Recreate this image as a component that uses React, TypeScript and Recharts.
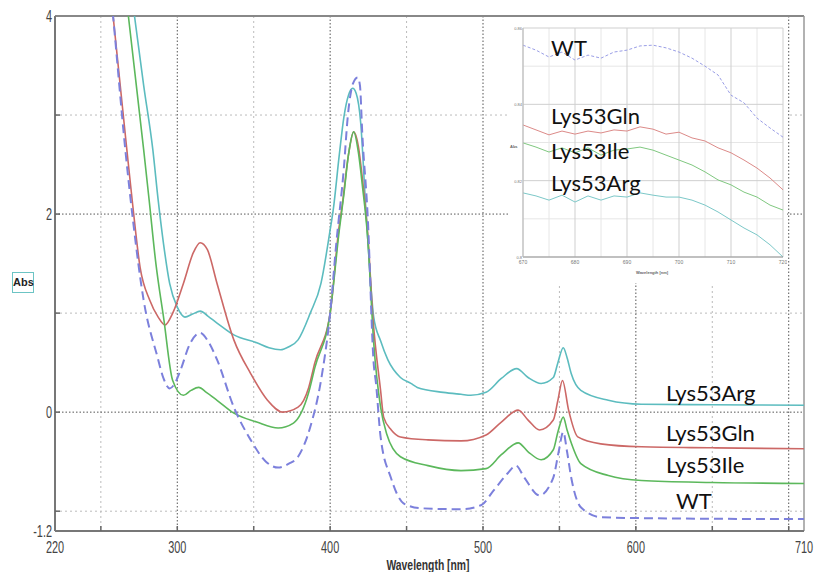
import { LineChart, Line, XAxis, YAxis, CartesianGrid, ReferenceLine, ReferenceDot } from 'recharts';

// main spectra (wavelength nm / absorbance)
const argWl = [250, 272, 278, 284, 287.5, 291, 295, 300, 305, 310, 315, 320, 326, 337, 352, 360, 367.5, 373, 379, 387, 394, 400, 402, 406, 409, 412, 414.7, 417, 420, 423, 424.6, 428.5, 433, 437.7, 446, 452.8, 457, 474, 485.6, 492, 502, 512, 522, 529.5, 538, 546, 549, 552.5, 555, 557.7, 564, 582, 603.6, 650, 710];
const argAbs = [6.4, 4.0, 3.3, 2.65, 2.14, 1.7, 1.30, 1.06, 0.96, 0.99, 1.02, 0.97, 0.90, 0.78, 0.70, 0.65, 0.63, 0.66, 0.73, 1.0, 1.3, 1.84, 2.04, 2.6, 2.98, 3.2, 3.27, 3.22, 2.92, 2.14, 1.75, 0.96, 0.72, 0.53, 0.35, 0.29, 0.25, 0.20, 0.18, 0.17, 0.20, 0.34, 0.44, 0.35, 0.29, 0.35, 0.50, 0.65, 0.55, 0.39, 0.22, 0.12, 0.08, 0.075, 0.07];

const glnWl = [250, 258, 267, 270.5, 275.7, 282, 287.5, 292, 297, 304, 310.5, 315, 319.7, 326, 337, 348, 359, 369, 379, 386, 390, 400, 405.6, 408, 412, 415.4, 418.5, 421, 424.6, 428, 433, 435, 440, 446, 464, 485.6, 502, 512, 523, 529.5, 537, 546, 549, 552, 556, 562, 577, 603.6, 650, 710];
const glnAbs = [5.3, 4.0, 2.65, 2.14, 1.46, 1.13, 0.96, 0.88, 1.0, 1.30, 1.61, 1.71, 1.64, 1.30, 0.73, 0.39, 0.12, 0.0, 0.05, 0.25, 0.5, 1.0, 1.84, 2.1, 2.6, 2.83, 2.68, 2.37, 1.8, 0.95, 0.22, -0.05, -0.18, -0.25, -0.28, -0.29, -0.23, -0.10, 0.02, -0.08, -0.18, -0.08, 0.12, 0.32, 0.02, -0.25, -0.32, -0.35, -0.36, -0.37];

const ileWl = [250, 268, 278, 281.6, 286, 291, 297, 304, 309, 314, 319, 326, 337, 352, 366, 376, 386, 390, 400, 406, 409, 412, 415.4, 418.5, 421, 424.6, 428.5, 433, 437, 446, 464, 485.6, 502, 512, 523, 529.5, 538, 546, 549, 552.5, 555, 557.7, 564, 582, 603.6, 650, 710];
const ileAbs = [6.6, 4.0, 2.65, 2.14, 1.5, 0.96, 0.32, 0.17, 0.22, 0.25, 0.20, 0.12, -0.01, -0.10, -0.16, -0.11, 0.20, 0.45, 1.0, 1.84, 2.2, 2.6, 2.83, 2.62, 2.3, 1.75, 0.7, 0.05, -0.22, -0.45, -0.54, -0.59, -0.57, -0.43, -0.31, -0.40, -0.48, -0.38, -0.2, -0.05, -0.18, -0.31, -0.52, -0.64, -0.69, -0.71, -0.72];

const wtWl = [250, 258, 266, 271, 278, 287, 291, 295, 298, 302, 308, 315, 320, 326, 337, 348, 358, 366, 373, 379, 387, 394, 400, 404, 409, 411.5, 415, 418, 419.5, 421, 424.6, 428.5, 430, 433, 439.7, 448, 459, 485.6, 498.7, 507, 516, 521.6, 527, 537, 546, 549.5, 552.5, 555, 557.7, 564, 577, 603.6, 710];
const wtAbs = [5.3, 4.0, 2.65, 1.94, 1.13, 0.56, 0.34, 0.24, 0.28, 0.42, 0.68, 0.80, 0.72, 0.53, 0.05, -0.28, -0.50, -0.56, -0.52, -0.45, -0.15, 0.32, 1.0, 1.7, 2.47, 2.98, 3.32, 3.38, 3.3, 2.82, 1.97, 0.49, 0.29, -0.25, -0.66, -0.92, -0.97, -0.98, -0.94, -0.79, -0.62, -0.54, -0.66, -0.84, -0.66, -0.4, -0.20, -0.4, -0.66, -0.96, -1.06, -1.07, -1.08];

// inset (zoomed red end)
const insetWl = [670, 672.5, 675, 677.5, 680, 682.5, 685, 687.5, 690, 692.5, 695, 697.5, 700, 702.5, 705, 707.5, 710, 712.5, 715, 717.5, 720];
const insetWt = [0.8555, 0.8542, 0.8524, 0.8537, 0.8516, 0.8529, 0.8521, 0.8537, 0.8542, 0.8553, 0.8555, 0.8548, 0.8537, 0.8521, 0.85, 0.8477, 0.8424, 0.8404, 0.8364, 0.8338, 0.8314];
const insetGln = [0.8346, 0.8333, 0.832, 0.833, 0.8322, 0.833, 0.8325, 0.8333, 0.833, 0.8341, 0.8335, 0.8322, 0.8327, 0.8312, 0.8304, 0.8286, 0.8273, 0.8254, 0.8233, 0.8207, 0.8176];
const insetIle = [0.8299, 0.8288, 0.8275, 0.8286, 0.8273, 0.8286, 0.8267, 0.828, 0.8283, 0.8288, 0.828, 0.8267, 0.8254, 0.8241, 0.8223, 0.8202, 0.8189, 0.817, 0.8157, 0.8136, 0.8123];
const insetArg = [0.8168, 0.816, 0.8149, 0.8162, 0.8144, 0.816, 0.8149, 0.816, 0.8157, 0.8168, 0.8162, 0.8157, 0.8157, 0.8149, 0.8136, 0.8118, 0.8097, 0.8076, 0.8058, 0.8032, 0.8];

const xTicks = [220, 250, 300, 350, 400, 450, 500, 550, 600, 650, 700, 710];
const xLabels = [220, 300, 400, 500, 600, 710];
const yTicks = [4, 3, 2, 1, 0, -1, -1.2];
const yLabels = [4, 2, 0, -1.2];
const insetXTicks = [670, 680, 690, 700, 710, 720];
const insetYTicks = [0.8, 0.82, 0.84, 0.86];

const COLORS = { arg: '#5cbcbf', gln: '#cc6866', ile: '#5cb85c', wt: '#7c80dc' };

const zip = (wl: number[], abs: number[]) => wl.map((w, i) => ({ wl: w, abs: abs[i] }));
const argData = zip(argWl, argAbs);
const glnData = zip(glnWl, glnAbs);
const ileData = zip(ileWl, ileAbs);
const wtData = zip(wtWl, wtAbs);
const insetData = insetWl.map((w, i) => ({ wl: w, wt: insetWt[i], gln: insetGln[i], ile: insetIle[i], arg: insetArg[i] }));

const tickFont = "'Liberation Sans', Arial, sans-serif";
const tagFont = "Lato, 'Liberation Sans', sans-serif";

const XTick = (props: any) => {
  const { x, y, payload } = props;
  const v = payload.value;
  return (
    <g>
      {v !== 220 && v !== 710 && <line x1={x} y1={y} x2={x} y2={y - 5} stroke="#666" strokeWidth={1.5} />}
      {xLabels.includes(v) && (
        <text transform={`translate(${x},${y + 22}) scale(0.64,1)`} textAnchor="middle" fontSize={17} fill="#444" fontFamily={tickFont}>
          {v}
        </text>
      )}
    </g>
  );
};

const YTick = (props: any) => {
  const { x, y, payload } = props;
  const v = payload.value;
  return (
    <g>
      {v !== 4 && v !== -1.2 && <line x1={x} y1={y} x2={x + 5} y2={y} stroke="#666" strokeWidth={1.5} />}
      {yLabels.includes(v) && (
        <text transform={`translate(${x - 3},${y + 6}) scale(0.64,1)`} textAnchor="end" fontSize={17} fill="#444" fontFamily={tickFont}>
          {v}
        </text>
      )}
    </g>
  );
};

const InsetTick = (anchor: 'x' | 'y') => (props: any) => {
  const { x, y, payload } = props;
  return anchor === 'x' ? (
    <text x={x} y={y + 7} textAnchor="middle" fontSize={5} fill="#777" fontFamily={tickFont}>{payload.value}</text>
  ) : (
    <text x={x - 1} y={y + 2} textAnchor="end" fontSize={4} fill="#777" fontFamily={tickFont}>{payload.value}</text>
  );
};

const tag = (text: string, size: number) => (props: any) => {
  const { viewBox } = props;
  return (
    <text x={viewBox.x} y={viewBox.y} fontSize={size} fill="#111" fontFamily={tagFont}>
      {text}
    </text>
  );
};

export default function App() {
  return (
    <div style={{ position: 'absolute', left: 0, top: 0, width: 814, height: 572, background: '#fff' }}>
      <LineChart width={814} height={572} margin={{ top: 16, right: 10, bottom: 0, left: 0 }}>
        <CartesianGrid horizontalValues={[3, 1, -1]} verticalValues={[250, 350, 450, 550, 650]} stroke="#bbb" strokeDasharray="2 3" />
        <CartesianGrid horizontalValues={[2, 0]} verticalValues={[300, 400, 500, 600, 700]} stroke="#555" strokeDasharray="1.5 2" />
        <XAxis dataKey="wl" type="number" domain={[220, 710]} ticks={xTicks} allowDataOverflow height={41}
          tickSize={0} tickMargin={0} tickLine={false} axisLine={{ stroke: '#777', strokeWidth: 2 }} tick={XTick} interval={0} />
        <YAxis type="number" domain={[-1.2, 4]} ticks={yTicks} allowDataOverflow width={55}
          tickSize={0} tickMargin={0} tickLine={false} axisLine={{ stroke: '#777', strokeWidth: 2 }} tick={YTick} interval={0} />
        <ReferenceLine y={4} stroke="#888" strokeWidth={2} />
        <ReferenceLine x={710} stroke="#999" strokeWidth={1.5} />
        <Line data={argData} dataKey="abs" type="monotone" stroke={COLORS.arg} strokeWidth={1.6} dot={false} isAnimationActive={false} />
        <Line data={glnData} dataKey="abs" type="monotone" stroke={COLORS.gln} strokeWidth={1.6} dot={false} isAnimationActive={false} />
        <Line data={ileData} dataKey="abs" type="monotone" stroke={COLORS.ile} strokeWidth={1.6} dot={false} isAnimationActive={false} />
        <Line data={wtData} dataKey="abs" type="monotone" stroke={COLORS.wt} strokeWidth={2} strokeDasharray="9 5" dot={false} isAnimationActive={false} />
        <ReferenceDot x={620.4} y={0.1} r={1} fill="none" stroke="none" label={tag('Lys53Arg', 22)} />
        <ReferenceDot x={620.4} y={-0.3} r={1} fill="none" stroke="none" label={tag('Lys53Gln', 22)} />
        <ReferenceDot x={620.4} y={-0.62} r={1} fill="none" stroke="none" label={tag('Lys53Ile', 22)} />
        <ReferenceDot x={626.9} y={-0.99} r={1} fill="none" stroke="none" label={tag('WT', 22)} />
      </LineChart>

      <div style={{ position: 'absolute', left: 0, top: 557, width: 856, textAlign: 'center', fontFamily: tickFont, fontWeight: 'bold', fontSize: 14, color: '#333', transform: 'scaleX(0.74)', transformOrigin: '428px 0' }}>
        Wavelength [nm]
      </div>
      <div style={{ position: 'absolute', left: 12, top: 272, width: 20, height: 19, border: '1px solid #6cc4c4', fontFamily: tickFont, fontWeight: 'bold', fontSize: 11, lineHeight: '19px', textAlign: 'center', color: '#222' }}>
        Abs
      </div>

      <div style={{ position: 'absolute', left: 510, top: 17, width: 277, height: 266, background: '#fff' }}>
        <LineChart width={277} height={266} data={insetData} margin={{ top: 11, right: 4, bottom: 0, left: 0 }}>
          <CartesianGrid horizontalValues={[0.81, 0.83, 0.85]} verticalValues={[675, 685, 695, 705, 715]} stroke="#e6e6e6" />
          <CartesianGrid horizontalValues={[0.8, 0.82, 0.84, 0.86]} verticalValues={[670, 680, 690, 700, 710, 720]} stroke="#cfcfcf" />
          <XAxis dataKey="wl" type="number" domain={[670, 720]} ticks={insetXTicks} height={26}
            tickSize={0} tickMargin={0} tickLine={false} axisLine={{ stroke: '#999' }} tick={InsetTick('x')} interval={0} />
          <YAxis type="number" domain={[0.8, 0.86]} ticks={insetYTicks} width={13}
            tickSize={0} tickMargin={0} tickLine={false} axisLine={{ stroke: '#bbb' }} tick={InsetTick('y')} interval={0} />
          <Line dataKey="wt" type="linear" stroke="#9a9ee6" strokeWidth={1} strokeDasharray="3 2" dot={false} isAnimationActive={false} />
          <Line dataKey="gln" type="linear" stroke="#dc8a88" strokeWidth={1} dot={false} isAnimationActive={false} />
          <Line dataKey="ile" type="linear" stroke="#80c880" strokeWidth={1} dot={false} isAnimationActive={false} />
          <Line dataKey="arg" type="linear" stroke="#7cc8c8" strokeWidth={1} dot={false} isAnimationActive={false} />
          <ReferenceDot x={675.6} y={0.8524} r={1} fill="none" stroke="none" label={tag('WT', 22)} />
          <ReferenceDot x={675.6} y={0.8346} r={1} fill="none" stroke="none" label={tag('Lys53Gln', 22)} />
          <ReferenceDot x={675.6} y={0.8254} r={1} fill="none" stroke="none" label={tag('Lys53Ile', 22)} />
          <ReferenceDot x={675.6} y={0.817} r={1} fill="none" stroke="none" label={tag('Lys53Arg', 22)} />
        </LineChart>
        <div style={{ position: 'absolute', left: 126, top: 253, fontFamily: tickFont, fontWeight: 'bold', fontSize: 4, color: '#666' }}>Wavelength [nm]</div>
        <div style={{ position: 'absolute', left: 0, top: 127, fontFamily: tickFont, fontWeight: 'bold', fontSize: 4, color: '#666' }}>Abs</div>
      </div>
    </div>
  );
}
